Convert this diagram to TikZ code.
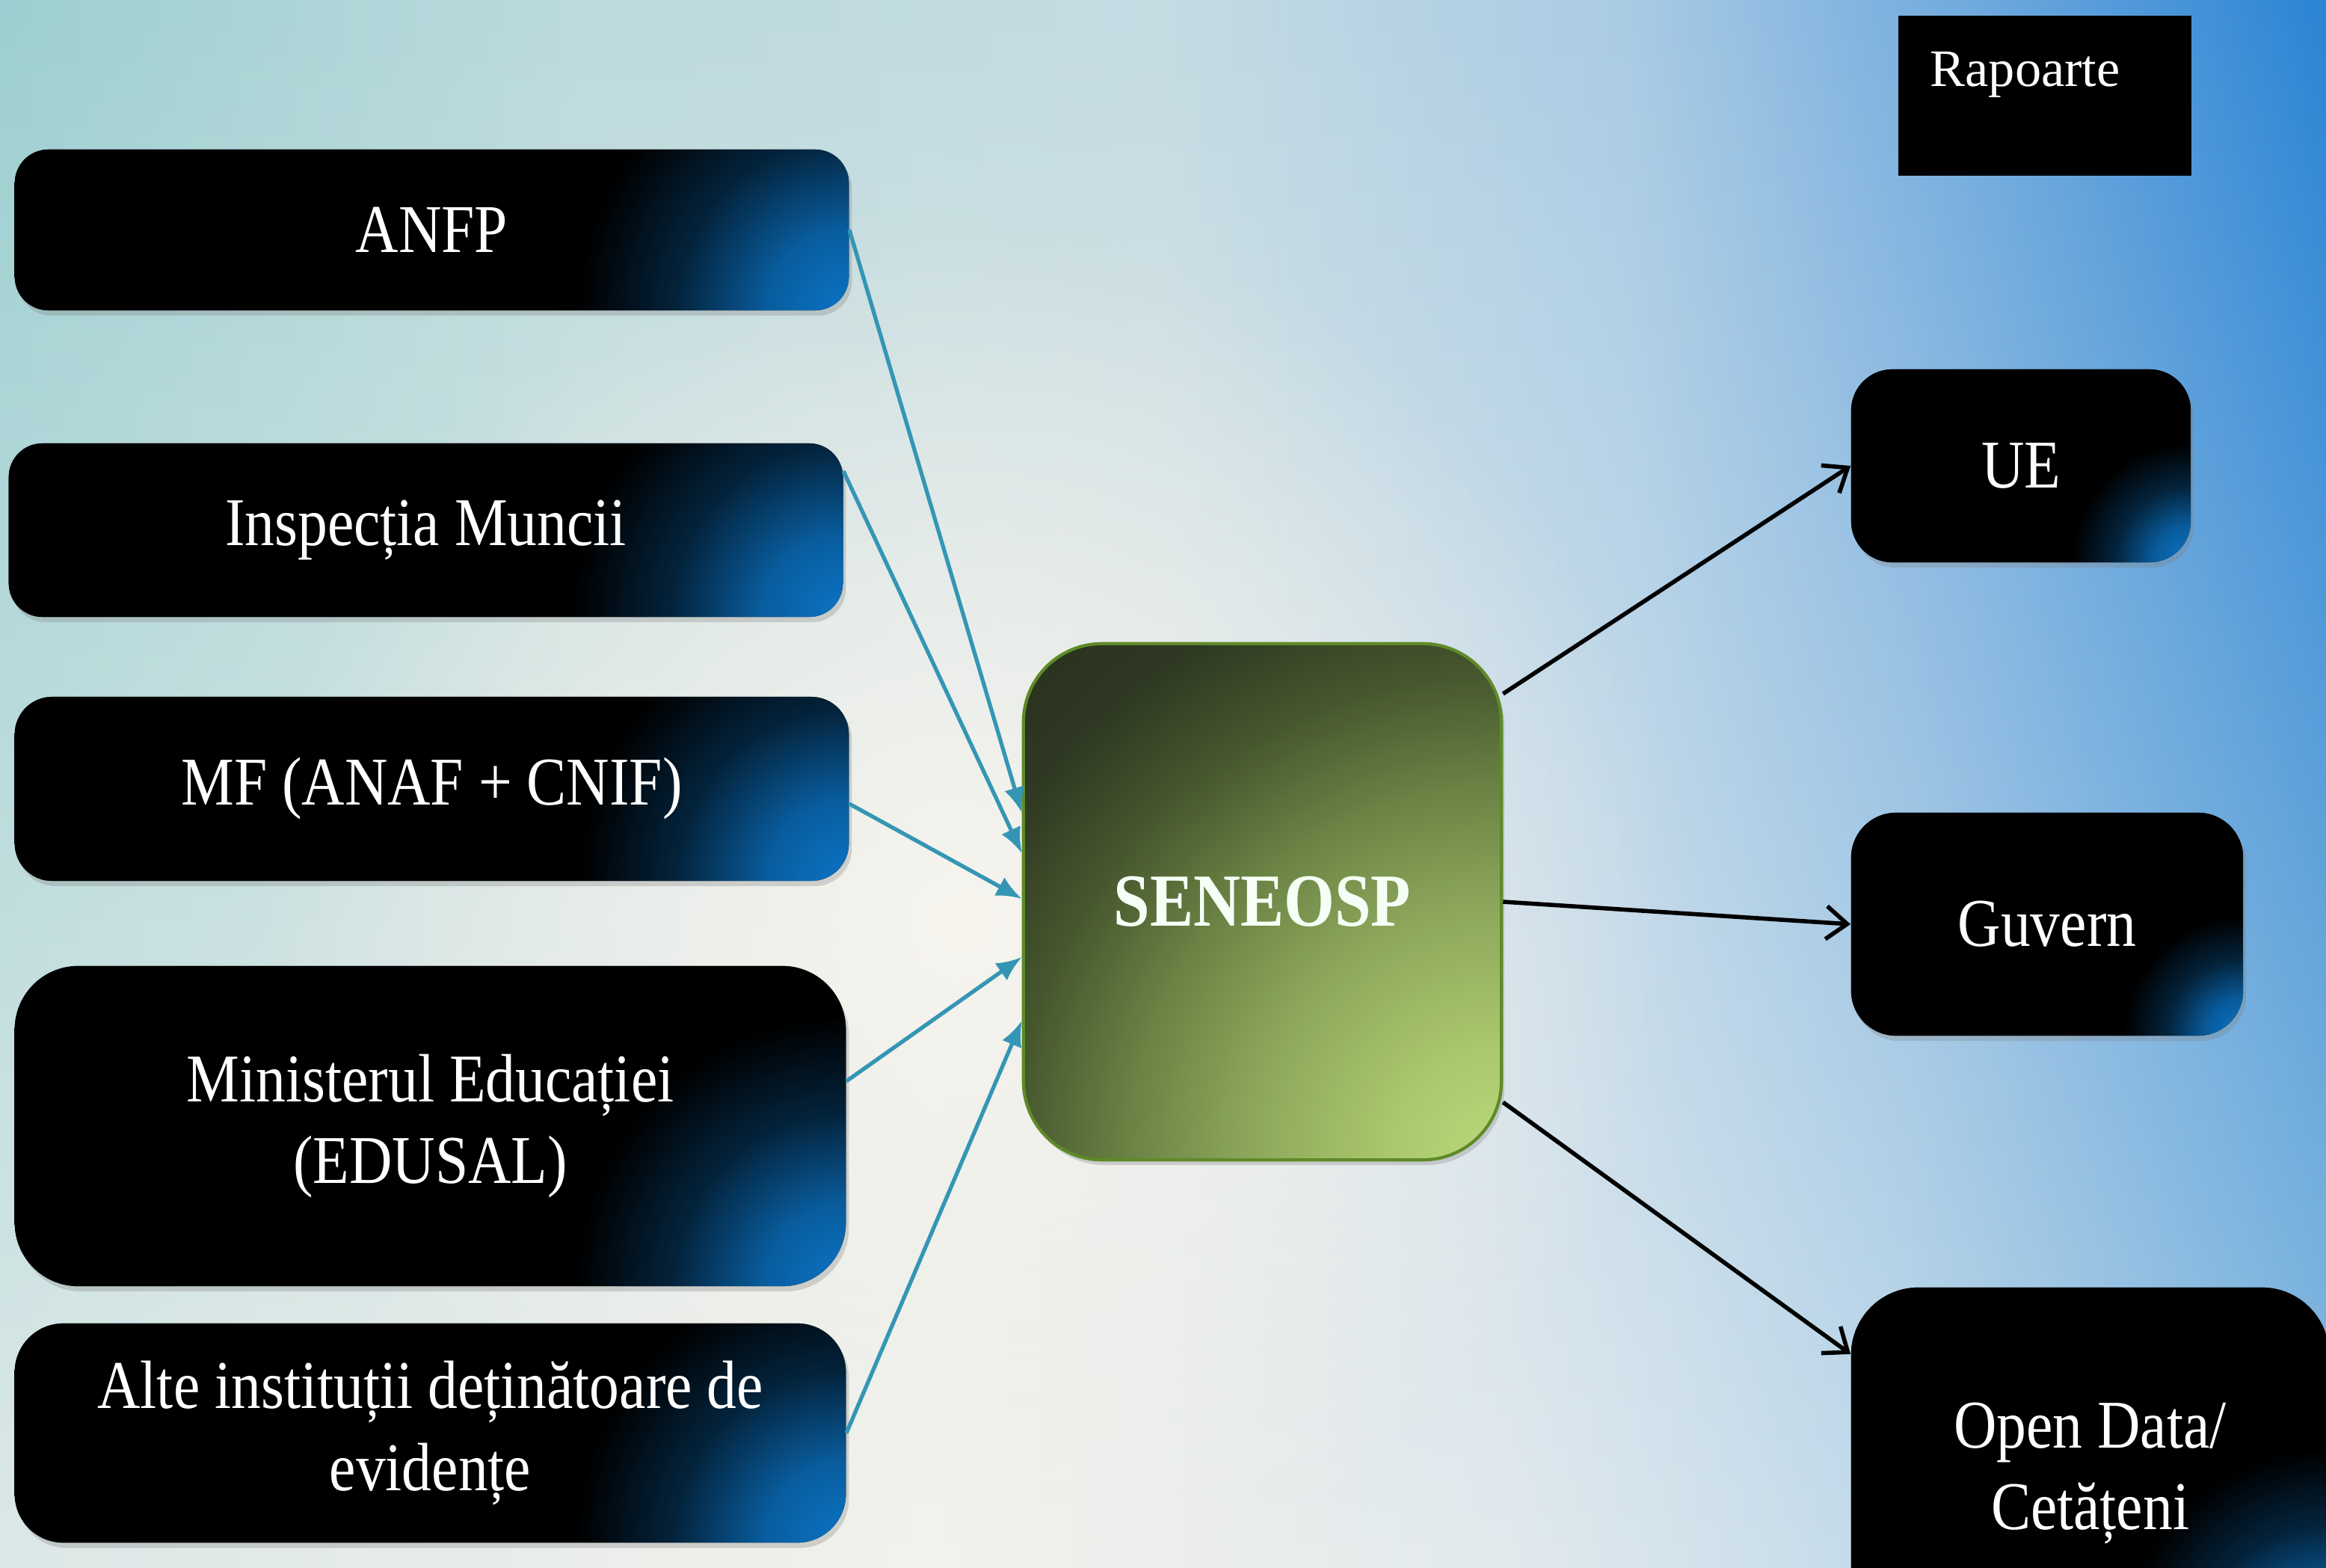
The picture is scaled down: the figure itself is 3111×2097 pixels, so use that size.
\documentclass[tikz,border=0pt]{standalone}
\usepackage{fontspec}
\setmainfont{Liberation Serif}[FakeStretch=0.87]
\newfontfamily\plainserif{Liberation Serif}
\usetikzlibrary{arrows.meta,shadows,fadings,calc}

% bottom row of the background
\definecolor{bA}{HTML}{DCE8E8}
\definecolor{bB}{HTML}{F4F2EC}
\definecolor{bC}{HTML}{E2EAEE}
\definecolor{bD}{HTML}{C2DAEA}
\definecolor{bE}{HTML}{8ABCE0}
% top row of the background
\definecolor{tA}{HTML}{9CCFD1}
\definecolor{tB}{HTML}{BCDADD}
\definecolor{tC}{HTML}{C4DBE2}
\definecolor{tD}{HTML}{A9CBE4}
\definecolor{tE}{HTML}{6FA9DD}
\definecolor{tF}{HTML}{2B84D5}
\definecolor{creambg}{HTML}{F7F4EE}
\definecolor{glowblue}{HTML}{0B74C6}
\definecolor{inblue}{HTML}{3496B4}
\definecolor{gA}{HTML}{B9DA7B}
\definecolor{gB}{HTML}{AAC86C}
\definecolor{gC}{HTML}{8AA55A}
\definecolor{gD}{HTML}{6A8244}
\definecolor{gE}{HTML}{46572E}
\definecolor{gF}{HTML}{2E3822}
\definecolor{gG}{HTML}{252E1B}
\definecolor{seneoborder}{HTML}{5F8A28}

% shadings: only the 25bp..75bp band is fitted to the path
\pgfdeclarehorizontalshading{bgbottom}{100bp}{color(0bp)=(bA); color(25bp)=(bA); color(45bp)=(bB); color(57.5bp)=(bC); color(66bp)=(bD); color(75bp)=(bE); color(100bp)=(bE)}
\pgfdeclarehorizontalshading{bgtop}{100bp}{color(0bp)=(tA); color(25bp)=(tA); color(37.5bp)=(tB); color(50bp)=(tC); color(60bp)=(tD); color(67.5bp)=(tE); color(75bp)=(tF); color(100bp)=(tF)}
% glow shadings, fitted to a 24cm square centred on the box corner (25bp = 12cm)
\pgfdeclareradialshading{glowL}{\pgfpointorigin}{color(0bp)=(glowblue); color(2.25bp)=(glowblue!80!black); color(4.8bp)=(glowblue!30!black); color(7.5bp)=(black); color(50bp)=(black)}
\pgfdeclareradialshading{glowM}{\pgfpointorigin}{color(0bp)=(glowblue); color(1.75bp)=(glowblue!80!black); color(3.73bp)=(glowblue!30!black); color(5.83bp)=(black); color(50bp)=(black)}
\pgfdeclareradialshading{glowS}{\pgfpointorigin}{color(0bp)=(glowblue); color(1bp)=(glowblue!80!black); color(2.13bp)=(glowblue!30!black); color(3.33bp)=(black); color(50bp)=(black)}
\pgfdeclareradialshading{seneosh}{\pgfpointorigin}{color(0bp)=(gA); color(3.75bp)=(gB); color(8.75bp)=(gC); color(12.5bp)=(gD); color(16.25bp)=(gE); color(20bp)=(gF); color(25bp)=(gG); color(50bp)=(gG)}
\tikzfading[name=radfade, inner color=transparent!0, outer color=transparent!100]
\tikzfading[name=fadedown, top color=transparent!0, bottom color=transparent!100]

\begin{document}
\begin{tikzpicture}[x=0.01cm, y=-0.01cm,
  blk/.style={fill=black, text=white, align=center,
    font=\fontsize{26}{31}\selectfont,
    drop shadow={opacity=0.3, shadow xshift=0.04cm, shadow yshift=-0.07cm}},
  glow/.style={path picture={\shade[shading=#1] (path picture bounding box.south east) +(-12cm,-12cm) rectangle +(12cm,12cm);}},
  rc/.style={rounded corners=#1},
  seneo/.style={rounded corners=1.05cm, draw=seneoborder, line width=1.2pt,
    text=white!96!green, font=\bfseries\fontsize{28.5}{34}\selectfont,
    drop shadow={opacity=0.3, shadow xshift=0.04cm, shadow yshift=-0.07cm},
    path picture={\shade[shading=seneosh] (path picture bounding box.south east) circle[radius=10cm];}},
  rbox/.style={fill=black, text=white, align=left, font=\plainserif\fontsize{20}{24}\selectfont},
  inarr/.style={draw=inblue, line width=1.5pt, -{Latex[length=0.34cm, width=0.28cm]}},
  outarr/.style={draw=black, line width=1.6pt, -{Straight Barb[length=0.28cm, width=0.44cm]}}
]
\useasboundingbox (0,0) rectangle (3111,2097);
% background
\shade[shading=bgbottom] (0,0) rectangle (3111,2097);
\shade[shading=bgtop, path fading=fadedown] (0,0) rectangle (3111,2097);
\fill[creambg, path fading=radfade] (1290,1230) circle[radius=9.5cm];

% left boxes
\node[blk, rc=0.45cm, glow=glowL, minimum width=11.15cm, minimum height=2.15cm] (anfp) at (577.5,307.5) {ANFP};
\node[blk, rc=0.45cm, glow=glowL, minimum width=11.15cm, minimum height=2.32cm] (insp) at (569.5,709) {Inspecția Muncii};
\node[blk, rc=0.5cm, glow=glowL, minimum width=11.15cm, minimum height=2.46cm] (mf) at (577.5,1055) {MF (ANAF + CNIF)};
\node[blk, rc=0.85cm, glow=glowL, minimum width=11.11cm, minimum height=4.28cm] (min) at (575.5,1506) {Ministerul Educației\\(EDUSAL)};
\node[blk, rc=0.65cm, glow=glowL, minimum width=11.11cm, minimum height=2.93cm] (alte) at (575.5,1916.5) {Alte instituții deținătoare de\\evidențe};

% centre
\node[seneo, minimum width=6.39cm, minimum height=6.9cm] (sen) at (1688.5,1206) {SENEOSP};

% right boxes
\node[rbox, anchor=north west, minimum width=3.92cm, minimum height=2.14cm,
  text width=3.06cm, inner xsep=0.43cm, inner ysep=0.3cm, text height=0.65cm, text depth=0.89cm] (rap) at (2538,20) {Rapoarte};
\node[blk, rc=0.55cm, glow=glowS, minimum width=4.54cm, minimum height=2.58cm] (ue) at (2703,623) {UE};
\node[blk, rc=0.6cm, glow=glowS, minimum width=5.24cm, minimum height=2.98cm] (guv) at (2738,1236) {Guvern};
\node[blk, rc=0.9cm, glow=glowM, minimum width=6.39cm, minimum height=4.96cm] (od) at (2795.5,1970) {Open Data/\\Cetățeni};

% incoming connectors
\draw[inarr] (anfp.east) -- ([yshift=1.19cm]sen.west);
\draw[inarr] ([yshift=0.79cm]insp.east) -- ([yshift=0.65cm]sen.west);
\draw[inarr] ([yshift=-0.2cm]mf.east) -- ([yshift=0.04cm]sen.west);
\draw[inarr] ([yshift=0.6cm]min.east) -- ([yshift=-0.74cm]sen.west);
\draw[inarr] (alte.east) -- ([yshift=-1.59cm]sen.west);

% outgoing connectors
\draw[outarr] ([yshift=2.78cm]sen.east) -- (ue.west);
\draw[outarr] (sen.east) -- (guv.west);
\draw[outarr] ([yshift=-2.68cm]sen.east) -- ([yshift=1.59cm]od.west);
\end{tikzpicture}
\end{document}
